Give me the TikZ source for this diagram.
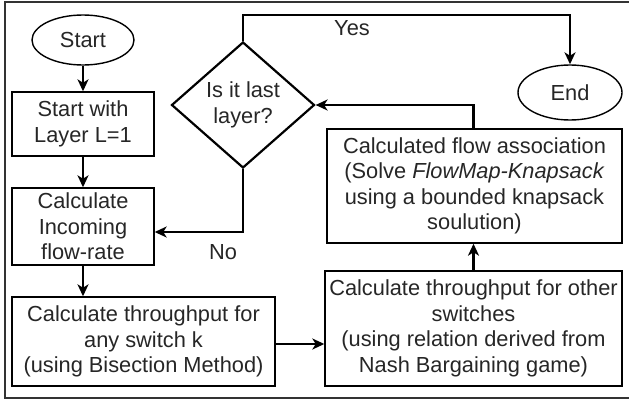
\documentclass[tikz,border=0pt]{standalone}
\usepackage{fontspec}
\setmainfont{Liberation Sans}
\usetikzlibrary{shapes.geometric,arrows.meta}
\begin{document}
\begin{tikzpicture}[x=1pt,y=-1pt,
  every node/.style={font=\fontsize{21.8}{25.5}\selectfont, text=black!85, align=center, inner sep=0pt},
  box/.style={draw, line width=1.4pt, rectangle},
  term/.style={draw, line width=1.4pt, ellipse},
  decide/.style={draw, line width=2.2pt, diamond, aspect=1.135},
  arr/.style={draw, line width=2.2pt, -{Stealth[length=12pt,width=11pt,inset=3.5pt]}},
  frame/.style={draw, line width=2.5pt, black!80}]
\useasboundingbox (0,0) rectangle (629,407);
\draw[frame] (629,2) -- (5,2) -- (5,398) -- (629,398);

\node[term, minimum width=102pt, minimum height=50pt] (start) at (83,40) {Start};
\node[box, minimum width=142pt, minimum height=64pt] (b1) at (83,124) {Start with\\Layer L=1};
\node[box, minimum width=142pt, minimum height=77pt] (b2) at (83,226.5) {Calculate\\Incoming\\flow-rate};
\node[box, minimum width=263pt, minimum height=89pt] (b3) at (143.5,341.5) {Calculate throughput for\\any switch k\\(using Bisection Method)};
\node[box, minimum width=297pt, minimum height=115pt] (b4) at (473.5,328.5) {Calculate throughput for other\\switches\\(using relation derived from\\Nash Bargaining game)};
\node[box, minimum width=295pt, minimum height=114pt] (b5) at (474.5,186) {Calculated flow association\\(Solve \textit{FlowMap-Knapsack}\\using a bounded knapsack\\soulution)};
\node[decide, minimum width=143pt, minimum height=126pt] (dia) at (243,105) {Is it last\\layer?};
\node[term, minimum width=104pt, minimum height=55pt] (end) at (570,92.5) {End};

\coordinate (topy) at (0,15);
\coordinate (noy) at (0,232);

\draw[arr] (start) -- (b1);
\draw[arr] (b1) -- (b2);
\draw[arr] (b2.south) -- (b2.south |- b3.north);
\draw[arr] (b3.east |- 0,344) -- (b4.west |- 0,344);
\draw[arr] (b4.north) -- (b4.north |- b5.south);
\draw[arr] (b4.north |- b5.north) |- (dia.east);
\draw[arr] (dia.north) -- (dia.north |- topy) -| (end.north);
\draw[arr] (dia.south) |- (b2.east |- noy);

\node (yes) at (352,28) {Yes};
\node (no) at (223,252) {No};
\end{tikzpicture}
\end{document}
